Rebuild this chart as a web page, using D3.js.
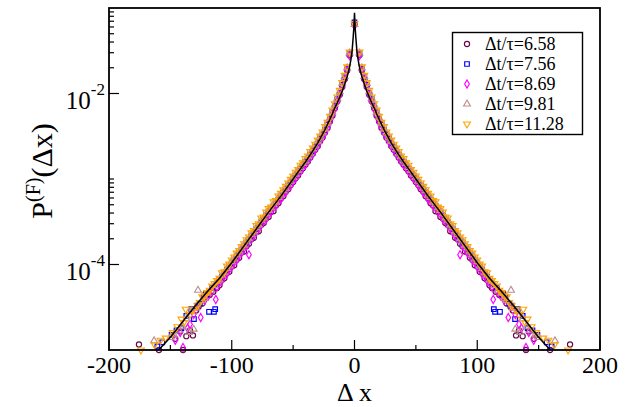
<!DOCTYPE html>
<html><head><meta charset="utf-8">
<script src="https://cdn.jsdelivr.net/npm/d3@7"></script>
<style>
html,body{margin:0;padding:0;background:#fff;}
svg{display:block;font-family:"Liberation Serif","Times New Roman",serif;}
</style></head>
<body><svg id="c" width="634" height="407"></svg>
<script>
// ---- data (distribution is symmetric: values listed for Δx >= 0, drawn at ±Δx) ----
const seriesNames = ["Δt/τ=6.58","Δt/τ=7.56","Δt/τ=8.69","Δt/τ=9.81","Δt/τ=11.28"];
const xCore = [0,4,6,8,10,12,14,16,18,20,22,24,26,28,30,32,34,36,38,40,42,44,46,48,50,
  52,54,56,58,60,62,64,66,68,70,72,74,76,78,80,82,84,86,88,90,92,94,96,98,100,102,104,106,108,110];

const p658 = [0.065,0.0281,0.0186,0.0147,0.0119,0.0097,0.0081,0.0067,0.0055,0.0047,
  0.00396,0.00349,0.00305,0.00277,0.00242,0.00220,0.00197,0.00179,0.00160,0.00147,
  0.00134,0.00123,0.00110,0.00102,9.2e-4,8.5e-4,7.6e-4,7.1e-4,6.3e-4,5.9e-4,
  5.2e-4,4.9e-4,4.2e-4,4.1e-4,3.6e-4,3.45e-4,3.05e-4,2.9e-4,2.45e-4,2.4e-4,
  2.05e-4,1.98e-4,1.75e-4,1.64e-4,1.42e-4,1.38e-4,1.2e-4,1.14e-4,9.8e-5,9.5e-5,
  8.2e-5,7.9e-5,6.9e-5,6.6e-5,5.7e-5];
const p756 = [0.068,0.0293,0.0195,0.0154,0.0126,0.0102,0.0086,0.0071,0.0060,0.0050,
  0.00432,0.00372,0.00330,0.00296,0.00260,0.00236,0.00212,0.00193,0.00172,0.00159,
  0.00144,0.00132,0.00120,0.00110,1.0e-3,9.1e-4,8.3e-4,7.6e-4,6.9e-4,6.3e-4,
  5.7e-4,5.3e-4,4.8e-4,4.5e-4,4.1e-4,3.75e-4,3.4e-4,3.1e-4,2.8e-4,2.6e-4,
  2.3e-4,2.15e-4,1.92e-4,1.8e-4,1.6e-4,1.5e-4,1.34e-4,1.25e-4,1.12e-4,1.04e-4,
  9.2e-5,8.6e-5,7.6e-5,7.2e-5,6.3e-5];
const p869 = [0.062,0.0276,0.0183,0.0145,0.0118,0.0096,0.0080,0.0066,0.0056,0.0047,
  0.00400,0.00348,0.00312,0.00276,0.00247,0.00220,0.00201,0.00179,0.00164,0.00147,
  0.00137,0.00123,0.00113,0.00102,9.5e-4,8.4e-4,7.9e-4,7.0e-4,6.6e-4,5.8e-4,
  5.5e-4,4.9e-4,4.6e-4,4.1e-4,3.9e-4,3.4e-4,3.25e-4,2.9e-4,2.65e-4,2.4e-4,
  2.2e-4,1.98e-4,1.3e-4,1.65e-4,1.53e-4,1.37e-4,1.28e-4,1.13e-4,1.06e-4,9.4e-5,
  8.8e-5,7.8e-5,7.4e-5,6.5e-5,6.1e-5];
const p981 = [0.064,0.0298,0.0199,0.0158,0.0131,0.0105,0.0088,0.0074,0.0061,0.0052,
  0.0045,0.00385,0.00345,0.00305,0.00275,0.00243,0.00224,0.00197,0.00182,0.00163,
  0.00152,0.00136,0.00126,0.00114,0.00105,9.4e-4,8.7e-4,7.8e-4,7.3e-4,6.5e-4,
  6.1e-4,5.4e-4,5.1e-4,4.6e-4,4.3e-4,3.9e-4,3.5e-4,3.3e-4,2.9e-4,2.7e-4,
  2.4e-4,2.25e-4,2.0e-4,1.88e-4,1.68e-4,1.56e-4,1.4e-4,1.3e-4,1.16e-4,1.08e-4,
  9.6e-5,9.0e-5,8.0e-5,7.5e-5,6.6e-5];
const p1128 = [0.066,0.0305,0.0205,0.0163,0.0134,0.0109,0.0091,0.0076,0.0064,0.0054,
  0.0046,0.0041,0.00355,0.00318,0.00285,0.00255,0.00230,0.00209,0.00186,0.00173,
  0.00155,0.00145,0.00129,0.00120,0.00108,9.9e-4,9.0e-4,8.2e-4,7.5e-4,6.8e-4,
  6.3e-4,5.6e-4,5.4e-4,4.7e-4,4.5e-4,4.1e-4,3.6e-4,3.5e-4,3.0e-4,2.85e-4,
  2.5e-4,2.35e-4,2.1e-4,1.95e-4,1.75e-4,1.62e-4,1.46e-4,1.36e-4,1.22e-4,1.13e-4,
  1.01e-4,9.6e-5,8.2e-5,8.0e-5,6.9e-5];

// tails (|Δx| > 110)
const xTail658 = [112,115,118,121.2,124,127,129,131.6,134,137,139.7,142,146,159.3,175.6];
const pTail658 = [5.3e-5,4.8e-5,4.4e-5,4.6e-5,3.5e-5,3.2e-5,2.9e-5,1.48e-5,1.7e-5,1.45e-5,1.0e-5,1.65e-5,1.35e-5,1.0e-5,1.16e-5];
const xTail756 = [112,113.5,114.5,116,118.5,120,123,126,128,130.8,133,137,141,145,149,156.6,160.6];
const pTail756 = [5.9e-5,3.0e-5,2.8e-5,5.3e-5,2.8e-5,4.5e-5,4.1e-5,3.5e-5,3.3e-5,2.3e-5,3.0e-5,2.5e-5,1.8e-5,1.7e-5,1.5e-5,1.23e-5,1.1e-5];
const xTail869 = [112,113,116,119,122,125.3,128,131,134,136,139.7,142,146];
const pTail869 = [5.5e-5,3.9e-5,4.9e-5,4.3e-5,3.8e-5,2.4e-5,3.2e-5,2.6e-5,2.0e-5,1.8e-5,1.07e-5,1.6e-5,1.3e-5];
const xTail981 = [112,114,117,120,122,124,127.5,129,131,133,135,137,140,143,147,150,163.3];
const pTail981 = [6.3e-5,5.7e-5,5.0e-5,4.6e-5,4.0e-5,3.8e-5,5.0e-5,3.1e-5,1.75e-5,2.8e-5,1.6e-5,2.3e-5,1.9e-5,1.7e-5,1.5e-5,1.4e-5,1.28e-5];
const xTail1128 = [112,114,116,118,120,122,124,126,128,131,134,137.5,139,141,144.3,148,153.8,158,162.8,174];
const pTail1128 = [6.5e-5,6.0e-5,5.6e-5,5.0e-5,4.7e-5,4.3e-5,4.2e-5,3.6e-5,3.3e-5,3.0e-5,2.6e-5,3.0e-5,2.1e-5,2.3e-5,1.87e-5,1.6e-5,1.38e-5,1.3e-5,1.15e-5,1.0e-5];

// fitted curve (black line), Δx >= 0
const xFit = [0,0.5,1,2,3,4,5,6,8,10,12,14,16,18,20,25,30,35,40,45,50,60,70,80,90,100,110,120,130,140,150,159.5];
const pFit = [0.088,0.060,0.047,0.031,0.0245,0.0205,0.0178,0.0158,0.0129,0.0107,0.0091,0.0078,0.0068,0.0058,0.0050,
  0.00355,0.00263,0.00202,0.00158,0.00126,0.00100,6.3e-4,4.1e-4,2.6e-4,1.65e-4,1.05e-4,6.9e-5,4.8e-5,3.24e-5,2.14e-5,1.41e-5,1.0e-5];

const xTicksMajor = [-200,-100,0,100,200];
const xTicksMinor = [-150,-50,50,150];
const yTicksMajor = [1e-2,1e-4];
const yTickLabels = ["-2","-4"];
const yTicksMinor = [2e-2,3e-2,4e-2,5e-2,6e-2,7e-2,8e-2,9e-2,1e-3,2e-4,3e-4,4e-4,5e-4,6e-4,7e-4,8e-4,9e-4];

// ---- layout ----
const L = 109, R = 600, T = 8, B = 350;
const svg = d3.select("#c");
const x = d3.scaleLinear().domain([-200,200]).range([L,R]);
const y = d3.scaleLog().domain([1e-5,1e-1]).range([B,T]);

const colors = ["#670748","#0000ff","#ff00ff","#bc8f8f","#ffa500"];
const shapes = [d3.symbolCircle, d3.symbolSquare, d3.symbolDiamond, d3.symbolTriangle, d3.symbolTriangle];
const sizes = [21, 21, 19, 20, 20];
const rot = [0,0,0,0,180];
const cores = [p658,p756,p869,p981,p1128];
const tails = [[xTail658,pTail658],[xTail756,pTail756],[xTail869,pTail869],[xTail981,pTail981],[xTail1128,pTail1128]];

function pts(i){
  const out = [];
  const core = cores[i];
  xCore.forEach((xv,k)=>{ if(k<core.length){ out.push([xv,core[k]]); if(xv!==0) out.push([-xv,core[k]]); }});
  const [tx,tp] = tails[i];
  tx.forEach((xv,k)=>{ out.push([xv,tp[k]]); out.push([-xv,tp[k]]); });
  return out;
}

// markers
cores.forEach((_,i)=>{
  const sym = d3.symbol().type(shapes[i]).size(sizes[i]);
  svg.append("g").selectAll("path").data(pts(i)).join("path")
    .attr("d", sym)
    .attr("transform", d=>`translate(${x(d[0])},${y(d[1])}) rotate(${rot[i]})`)
    .attr("fill","none").attr("stroke",colors[i]).attr("stroke-width",1.15);
});

// fitted line (mirrored)
const fitPts = xFit.map((v,k)=>[-v,pFit[k]]).reverse().concat(xFit.map((v,k)=>[v,pFit[k]]).slice(1));
svg.append("path").datum(fitPts)
  .attr("d", d3.line().x(d=>x(d[0])).y(d=>y(d[1])))
  .attr("fill","none").attr("stroke","#000").attr("stroke-width",1.5);

// frame
svg.append("rect").attr("x",L).attr("y",T).attr("width",R-L).attr("height",B-T)
  .attr("fill","none").attr("stroke","#000").attr("stroke-width",1.8);

// x ticks
const gx = svg.append("g");
gx.selectAll("line.maj").data(xTicksMajor).join("line")
  .attr("x1",d=>x(d)).attr("x2",d=>x(d)).attr("y1",B).attr("y2",B-10)
  .attr("stroke","#000").attr("stroke-width",1.2);
gx.selectAll("line.min").data(xTicksMinor).join("line")
  .attr("x1",d=>x(d)).attr("x2",d=>x(d)).attr("y1",B).attr("y2",B-5)
  .attr("stroke","#000").attr("stroke-width",1.2);
gx.selectAll("text").data(xTicksMajor).join("text")
  .attr("x",d=>x(d)).attr("y",B+23).attr("text-anchor","middle")
  .attr("font-size",24).text(d=>String(d));

// y ticks
const gy = svg.append("g");
gy.selectAll("line.maj").data(yTicksMajor).join("line")
  .attr("x1",L).attr("x2",L+10).attr("y1",d=>y(d)).attr("y2",d=>y(d))
  .attr("stroke","#000").attr("stroke-width",1.2);
gy.selectAll("line.min").data(yTicksMinor).join("line")
  .attr("x1",L).attr("x2",L+5).attr("y1",d=>y(d)).attr("y2",d=>y(d))
  .attr("stroke","#000").attr("stroke-width",1.2);
yTicksMajor.forEach((v,k)=>{
  const t = gy.append("text").attr("x",L-4).attr("y",y(v)+15).attr("text-anchor","end").attr("font-size",25);
  t.append("tspan").text("10");
  t.append("tspan").attr("dy",-14).attr("font-size",17).text(yTickLabels[k]);
});

// axis titles
svg.append("text").attr("x",x(0)).attr("y",401.3).attr("text-anchor","middle")
  .attr("font-size",26).text("Δ x");
const yt = svg.append("text").attr("transform","translate(52,171) rotate(-90)")
  .attr("text-anchor","middle").attr("font-size",30);
yt.append("tspan").text("P");
yt.append("tspan").attr("dy",-12).attr("font-size",20).text("(F)");
yt.append("tspan").attr("dy",12).text("(Δx)");

// legend
const lg = svg.append("g");
lg.append("rect").attr("x",452.5).attr("y",32.5).attr("width",130).attr("height",102)
  .attr("fill","#fff").attr("stroke","#000").attr("stroke-width",1.4);
const rowY = i => 44 + i*20;
seriesNames.forEach((name,i)=>{
  lg.append("path").attr("d", d3.symbol().type(shapes[i]).size(sizes[i])())
    .attr("transform",`translate(467,${rowY(i)}) rotate(${rot[i]})`)
    .attr("fill","none").attr("stroke",colors[i]).attr("stroke-width",1.15);
});
seriesNames.forEach((name,i)=>{
  lg.append("text").attr("x",485).attr("y",rowY(i)+6).attr("font-size",18).text(name);
});
</script>
</body></html>
